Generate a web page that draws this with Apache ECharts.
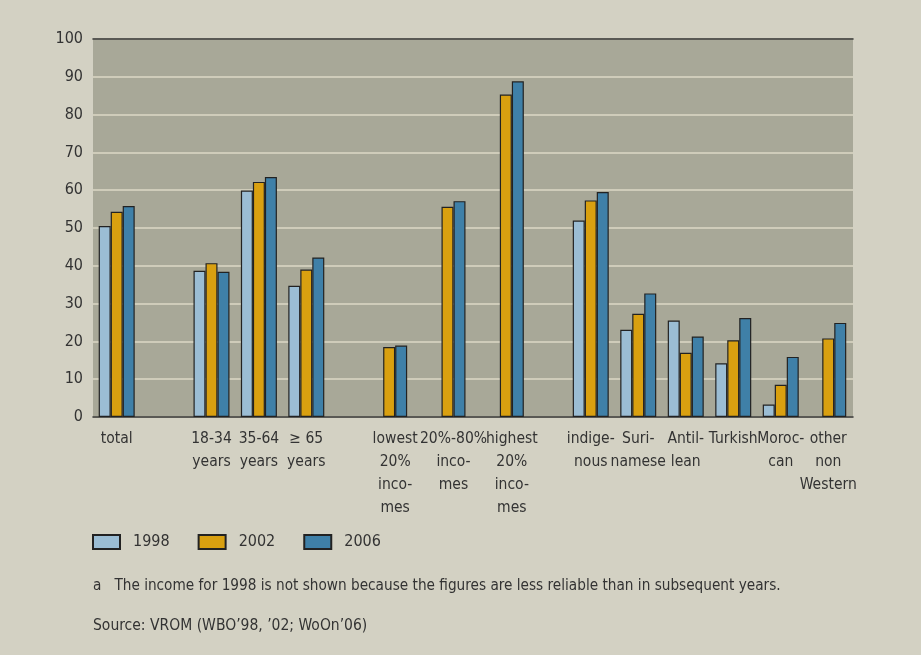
<!DOCTYPE html>
<html>
<head>
<meta charset="utf-8">
<script src="https://cdn.jsdelivr.net/npm/echarts@6/dist/echarts.min.js"></script>
<style>
  html, body { margin: 0; padding: 0; background: #d3d1c3; }
  #chart { width: 921px; height: 655px; }
</style>
</head>
<body>
<div id="chart"></div>
<script>
// three groups of categories, each group gets its own overlay grid
const ageCategories = ['total', '', '18-34\nyears', '35-64\nyears', '≥ 65\nyears'];
const incomeCategories = ['lowest\n20%\ninco-\nmes', '20%-80%\ninco-\nmes', 'highest\n20%\ninco-\nmes'];
const ethnicCategories = ['indige-\nnous', 'Suri-\nnamese', 'Antil-\nlean', 'Turkish', 'Moroc-\ncan', 'other\nnon\nWestern'];
const years = ['1998', '2002', '2006'];

const age1998 = [50.5, null, 38.7, 59.9, 34.7];
const age2002 = [54.3, null, 40.7, 62.2, 39.0];
const age2006 = [55.8, null, 38.4, 63.5, 42.2];
// no 1998 income figures
const income2002 = [18.5, 55.6, 85.3];
const income2006 = [18.9, 57.1, 88.8];
const ethnic1998 = [52.0, 23.1, 25.5, 14.2, 3.3, null];
const ethnic2002 = [57.3, 27.3, 17.0, 20.3, 8.5, 20.8];
const ethnic2006 = [59.5, 32.7, 21.3, 26.2, 15.9, 24.9];

const colors = ['#9bbdd4', '#d9a010', '#3f80a8'];
const font = '"Liberation Sans Narrow", "DejaVu Sans Condensed", sans-serif';

const chart = echarts.init(document.getElementById('chart'));

const gridBox = { top: 39, bottom: 238 };

const catAxis = (gridIndex, data) => ({
    type: 'category',
    gridIndex,
    data,
    axisLine: { show: false },
    axisTick: {
        alignWithLabel: true, length: 6,
        lineStyle: { color: '#333', width: 1.5 },
        interval: (i, v) => v !== ''
    },
    axisLabel: { interval: 0, fontSize: 15.5, color: '#333', lineHeight: 23, margin: 10, fontFamily: font }
});

const hiddenY = gridIndex => ({ type: 'value', gridIndex, min: 0, max: 100, show: false });

const bar = (name, data, axisIndex, color) => ({
    name,
    type: 'bar',
    data,
    xAxisIndex: axisIndex,
    yAxisIndex: axisIndex,
    barWidth: 12,
    barGap: '0%',
    itemStyle: { color, borderColor: '#222', borderWidth: 1.2 }
});

chart.setOption({
    backgroundColor: '#d3d1c3',
    textStyle: { fontFamily: font, color: '#333' },
    grid: [
        // background, gridlines and y axis
        { left: 93, right: 68, ...gridBox, show: true, backgroundColor: '#a8a898', borderWidth: 0 },
        { left: 93, right: 591, ...gridBox },
        { left: 366, right: 380, ...gridBox },
        { left: 567, right: 69, ...gridBox }
    ],
    legend: {
        left: 92, top: 534, padding: 0,
        itemWidth: 27, itemHeight: 14, itemGap: 28,
        icon: 'rect',
        textStyle: { fontFamily: font, fontSize: 16, color: '#333', padding: [0, 0, 0, 8] },
        data: years
    },
    xAxis: [
        {
            type: 'value', gridIndex: 0, min: 0, max: 1,
            axisLine: { show: true, lineStyle: { color: '#333', width: 1.5 } },
            axisTick: { show: false }, axisLabel: { show: false }, splitLine: { show: false }
        },
        catAxis(1, ageCategories),
        catAxis(2, incomeCategories),
        catAxis(3, ethnicCategories),
        {
            type: 'value', gridIndex: 0, position: 'top', min: 0, max: 1,
            axisLine: { show: true, lineStyle: { color: '#333', width: 1.5 } },
            axisTick: { show: false }, axisLabel: { show: false }, splitLine: { show: false }
        }
    ],
    yAxis: [
        {
            type: 'value', gridIndex: 0,
            min: 0, max: 100, interval: 10,
            axisLine: { show: false },
            axisTick: { show: false },
            axisLabel: { fontSize: 16, color: '#333', margin: 10, fontFamily: font },
            splitLine: { lineStyle: { color: '#cfccba', width: 2 } }
        },
        hiddenY(1), hiddenY(2), hiddenY(3)
    ],
    series: [
        bar(years[0], age1998, 1, colors[0]),
        bar(years[1], age2002, 1, colors[1]),
        bar(years[2], age2006, 1, colors[2]),
        bar(years[1], income2002, 2, colors[1]),
        bar(years[2], income2006, 2, colors[2]),
        bar(years[0], ethnic1998, 3, colors[0]),
        bar(years[1], ethnic2002, 3, colors[1]),
        bar(years[2], ethnic2006, 3, colors[2])
    ],
    graphic: [{
        type: 'text', left: 93, top: 579,
        style: {
            text: 'a   The income for 1998 is not shown because the figures are less reliable than in subsequent years.',
            font: '15.2px ' + font, fill: '#333'
        }
    }, {
        type: 'text', left: 93, top: 618,
        style: { text: 'Source: VROM (WBO’98, ’02; WoOn’06)', font: '15.5px ' + font, fill: '#333' }
    }]
});
</script>
</body>
</html>
